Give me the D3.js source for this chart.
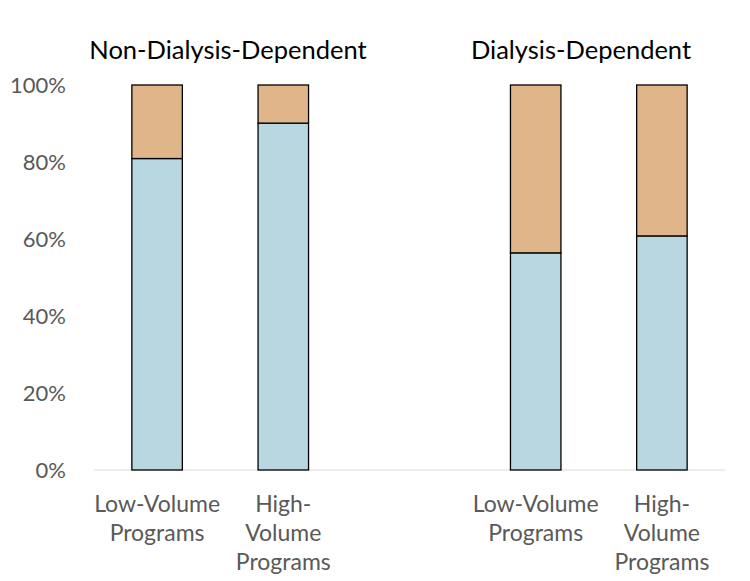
<!DOCTYPE html>
<html><head><meta charset="utf-8">
<script src="https://cdn.jsdelivr.net/npm/d3@7"></script>
<style>body{margin:0;background:#fff;} text{font-family:Lato, "Open Sans", sans-serif;}</style>
</head><body><div id="chart"></div>
<script>
const groups = ["Non-Dialysis-Dependent", "Dialysis-Dependent"];
const slots = ["ndd-low", "ndd-high", "gap", "dd-low", "dd-high"];
const barSlots = ["ndd-low", "ndd-high", "dd-low", "dd-high"];
const barLabels = [["Low-Volume", "Programs"], ["High-", "Volume", "Programs"], ["Low-Volume", "Programs"], ["High-", "Volume", "Programs"]];
const blueValues = [0.809, 0.901, 0.564, 0.608];
const tanValues = [0.191, 0.099, 0.436, 0.392];
const yTicks = [0, 0.2, 0.4, 0.6, 0.8, 1.0];

const W = 750, H = 581;
const svg = d3.select("#chart").append("svg").attr("width", W).attr("height", H);
const x = d3.scaleBand().domain(slots).range([94, 725]).paddingInner(0.6).paddingOuter(0.3);
const y = d3.scaleLinear().domain([0, 1]).range([470, 85]);

// y axis labels
svg.append("g").selectAll("text").data(yTicks).join("text")
  .attr("x", 66).attr("y", d => y(d)).attr("dy", "0.36em")
  .attr("text-anchor", "end").attr("fill", "#595959").attr("font-size", 22)
  .text(d => d3.format(".0%")(d));

// baseline
svg.append("line").attr("x1", 94).attr("x2", 725).attr("y1", y(0)).attr("y2", y(0))
  .attr("stroke", "#d9d9d9").attr("stroke-width", 1.2);

const bars = barSlots.map((s, i) => ({slot: s, blue: blueValues[i], tan: tanValues[i], label: barLabels[i]}));

const g = svg.append("g");
g.selectAll("rect.blue").data(bars).join("rect").attr("class", "blue")
  .attr("x", d => x(d.slot)).attr("width", x.bandwidth())
  .attr("y", d => y(d.blue)).attr("height", d => y(0) - y(d.blue))
  .attr("fill", "#b9d7e0").attr("stroke", "#000").attr("stroke-width", 1.3);
g.selectAll("rect.tan").data(bars).join("rect").attr("class", "tan")
  .attr("x", d => x(d.slot)).attr("width", x.bandwidth())
  .attr("y", d => y(d.blue + d.tan)).attr("height", d => y(d.blue) - y(d.blue + d.tan))
  .attr("fill", "#e1b58a").attr("stroke", "#000").attr("stroke-width", 1.3);

// x labels
const xl = svg.append("g").selectAll("text").data(bars).join("text")
  .attr("text-anchor", "middle").attr("fill", "#595959").attr("font-size", 23)
  .attr("x", d => x(d.slot) + x.bandwidth() / 2).attr("y", 512);
xl.selectAll("tspan").data(d => d.label.map(l => ({l, cx: x(d.slot) + x.bandwidth() / 2}))).join("tspan")
  .attr("x", d => d.cx).attr("dy", (d, i) => i === 0 ? 0 : 29).text(d => d.l);

// group titles
const titleX = [228, 581];
svg.append("g").selectAll("text").data(groups).join("text")
  .attr("x", (d, i) => titleX[i]).attr("y", 59).attr("text-anchor", "middle")
  .attr("fill", "#000").attr("font-size", 25.5).text(d => d);
</script></body></html>
